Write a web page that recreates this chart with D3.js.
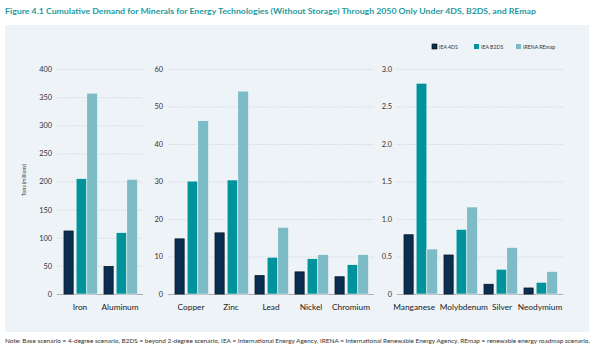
<!DOCTYPE html>
<html>
<head>
<meta charset="utf-8">
<script src="https://cdn.jsdelivr.net/npm/d3@7"></script>
<style>
  html, body { margin: 0; padding: 0; background: #ffffff; }
  svg { display: block; font-family: Lato, "Noto Sans", sans-serif; }
</style>
</head>
<body>
<svg id="chart" width="600" height="358"></svg>
<script>
// ---- data ----
const series = ["IEA 4DS", "IEA B2DS", "IRENA REmap"];
const colors = ["#0b2d4f", "#01939b", "#7dbbc6"];

const panel1Categories = ["Iron", "Aluminum"];
const panel1_4DS   = [112, 49];
const panel1_B2DS  = [205, 109];
const panel1_REmap = [357, 204];
const panel1Ticks  = [0, 50, 100, 150, 200, 250, 300, 350, 400];

const panel2Categories = ["Copper", "Zinc", "Lead", "Nickel", "Chromium"];
const panel2_4DS   = [14.7, 16.3, 4.9, 5.9, 4.6];
const panel2_B2DS  = [30.1, 30.4, 9.8, 9.4, 7.8];
const panel2_REmap = [46.2, 54.1, 17.8, 10.5, 10.5];
const panel2Ticks  = [0, 10, 20, 30, 40, 50, 60];

const panel3Categories = ["Manganese", "Molybdenum", "Silver", "Neodymium"];
const panel3_4DS   = [0.79, 0.52, 0.13, 0.08];
const panel3_B2DS  = [2.81, 0.86, 0.33, 0.155];
const panel3_REmap = [0.60, 1.16, 0.62, 0.30];
const panel3Ticks  = [0, 0.5, 1.0, 1.5, 2.0, 2.5, 3.0];

const titleText = "Figure 4.1 Cumulative Demand for Minerals for Energy Technologies (Without Storage) Through 2050 Only Under 4DS, B2DS, and REmap";
const noteText = "Note: Base scenario = 4-degree scenario, B2DS = beyond 2-degree scenario, IEA = International Energy Agency, IRENA = International Renewable Energy Agency, REmap = renewable energy roadmap scenario.";
const yAxisTitle = "Tons (millions)";

// ---- layout ----
const svg = d3.select("#chart");
const yTop = 69, yBottom = 294;

svg.append("rect").attr("x", 5).attr("y", 25).attr("width", 584).attr("height", 307)
  .attr("fill", "#eef3f7");

svg.append("text").attr("x", 5).attr("y", 14)
  .attr("font-size", 8.2).attr("font-weight", "bold").attr("fill", "#1e9aa0")
  .attr("textLength", 531).attr("lengthAdjust", "spacingAndGlyphs")
  .text(titleText);

svg.append("text").attr("x", 5).attr("y", 343)
  .attr("font-size", 5.6).attr("fill", "#333")
  .attr("textLength", 585).attr("lengthAdjust", "spacingAndGlyphs")
  .text(noteText);

svg.append("text")
  .attr("transform", "translate(26,180) rotate(-90)")
  .attr("text-anchor", "middle").attr("font-size", 5.2).attr("fill", "#333")
  .text(yAxisTitle);

// legend
const legendX = d3.scalePoint().domain(series).range([432, 516]);
const lg = svg.append("g");
series.forEach((s, i) => {
  const gx = legendX(s) + (i === 2 ? 0 : 0);
  lg.append("rect").attr("x", gx).attr("y", 44).attr("width", 5).attr("height", 5)
    .attr("fill", colors[i]).attr("stroke", i === 0 ? "#000" : "none").attr("stroke-width", 0.6);
  lg.append("text").attr("x", gx + 7).attr("y", 48.7).attr("font-size", 5.2).attr("fill", "#333")
    .text(s);
});

const panels = [
  { cats: panel1Categories, vals: [panel1_4DS, panel1_B2DS, panel1_REmap], ticks: panel1Ticks,
    range: [60, 140], fmt: d3.format("d") },
  { cats: panel2Categories, vals: [panel2_4DS, panel2_B2DS, panel2_REmap], ticks: panel2Ticks,
    range: [171, 371], fmt: d3.format("d") },
  { cats: panel3Categories, vals: [panel3_4DS, panel3_B2DS, panel3_REmap], ticks: panel3Ticks,
    range: [400, 560], fmt: d => d === 0 ? "0" : d3.format(".1f")(d) }
];

panels.forEach(p => {
  const x0 = d3.scaleBand().domain(p.cats).range(p.range).paddingInner(0.2).paddingOuter(0.1);
  const x1 = d3.scaleBand().domain(series).range([0, x0.bandwidth()]);
  const y = d3.scaleLinear().domain([0, p.ticks[p.ticks.length - 1]]).range([yBottom, yTop]);
  const axStart = p.range[0] - 3, axEnd = p.range[1] + 3;

  const g = svg.append("g");
  // y axis + gridlines
  const yAxis = g.append("g").attr("transform", `translate(${axStart},0)`)
    .call(d3.axisLeft(y).tickValues(p.ticks).tickFormat(p.fmt)
      .tickSize(-(axEnd - axStart)).tickPadding(5));
  yAxis.select(".domain").remove();
  yAxis.selectAll(".tick line")
    .attr("stroke", d => d === 0 ? "#a9b0b6" : "#c3c9ce")
    .attr("stroke-width", d => d === 0 ? 1 : 0.7)
    .attr("stroke-dasharray", d => d === 0 ? null : "1,1.2");
  yAxis.selectAll(".tick text").attr("font-size", 7.4).attr("fill", "#333")
    .attr("font-family", "Lato, sans-serif");

  // bars
  p.cats.forEach((c, ci) => {
    series.forEach((s, si) => {
      const v = p.vals[si][ci];
      const bx = x0(c) + x1(s);
      const bw = x1.bandwidth();
      const xx = si === 0 ? bx : bx + 1.5;
      const ww = si === 0 ? bw - 1.5 : bw;
      g.append("rect")
        .attr("x", xx).attr("y", y(v))
        .attr("width", ww).attr("height", yBottom - y(v))
        .attr("fill", colors[si])
        .attr("stroke", si === 0 ? "#0a1a2c" : "#ffffff")
        .attr("stroke-width", si === 0 ? 0.8 : 0.5);
    });
  });

  // x axis labels
  const xAxis = g.append("g").attr("transform", `translate(0,${yBottom})`)
    .call(d3.axisBottom(x0).tickSize(0).tickPadding(10));
  xAxis.select(".domain").remove();
  const labels = xAxis.selectAll(".tick text").attr("font-size", 8.3).attr("fill", "#222")
    .attr("font-family", "Lato, sans-serif");
  // resolve label collisions
  const nodes = labels.nodes();
  for (let pass = 0; pass < 6; pass++) {
    for (let i = 1; i < nodes.length; i++) {
      const a = nodes[i - 1].getBoundingClientRect();
      const b = nodes[i].getBoundingClientRect();
      const gap = b.left - a.right;
      if (gap < 4) {
        const shift = (4 - gap) / 2;
        const ax = +(d3.select(nodes[i - 1]).attr("dx") || 0);
        const bxx = +(d3.select(nodes[i]).attr("dx") || 0);
        d3.select(nodes[i - 1]).attr("dx", ax - shift);
        d3.select(nodes[i]).attr("dx", bxx + shift);
      }
    }
  }
});
</script>
</body>
</html>
